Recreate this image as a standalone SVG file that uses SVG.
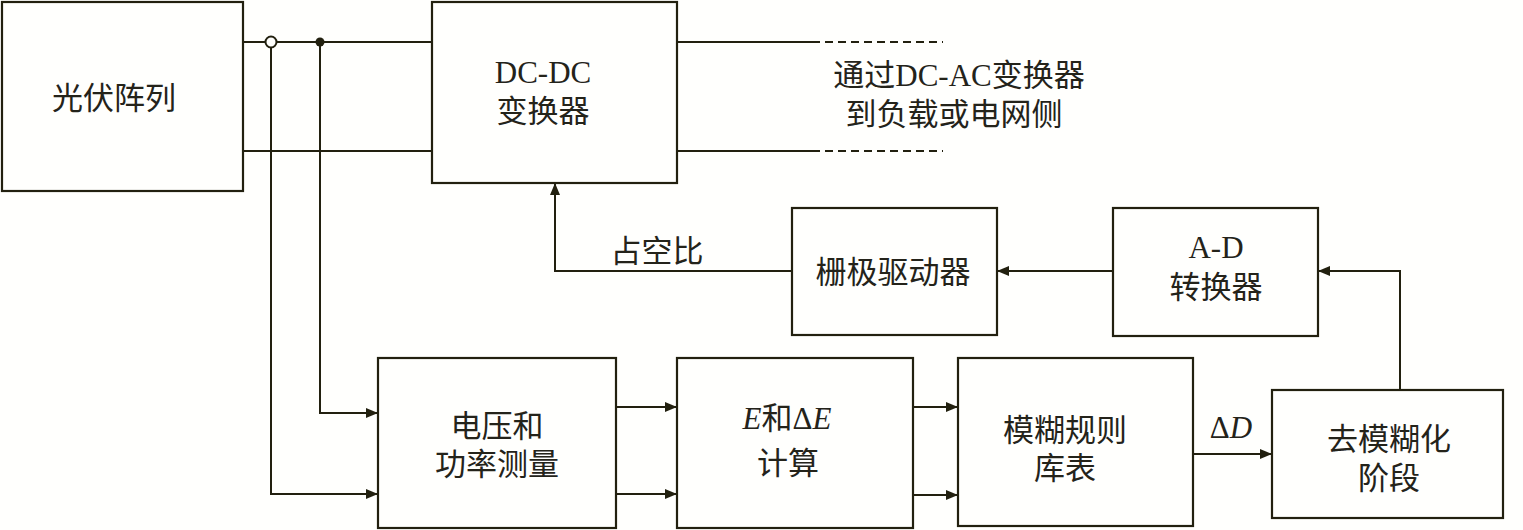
<svg xmlns="http://www.w3.org/2000/svg" width="1523" height="530" viewBox="0 0 1523 530">
<style>
.box{fill:#fffffd;stroke:#22200f;stroke-width:2.2}
.ln{fill:none;stroke:#22200f;stroke-width:2}
.ar{fill:none;stroke:#22200f;stroke-width:2;marker-end:url(#ah)}
.t{font-family:"Liberation Serif","Noto Sans CJK SC",serif;font-size:31px;fill:#24231a;text-anchor:middle}
.i{font-style:italic}
</style>
<defs>
<marker id="ah" viewBox="0 0 12 10" refX="12" refY="5" markerWidth="12" markerHeight="10" markerUnits="userSpaceOnUse" orient="auto">
<path d="M0,0 L12,5 L0,10 Z" fill="#22200f"/>
</marker>
</defs>
<rect width="1523" height="530" fill="#fffffd"/>
<g id="connectors">
<path class="ln" d="M243,42 H432"/>
<path class="ln" d="M243,151 H432"/>
<path class="ln" d="M677,42 H812"/>
<path class="ln" d="M677,151 H812"/>
<path class="ln" d="M812,42 H943" stroke-dasharray="8,5"/>
<path class="ln" d="M812,151 H943" stroke-dasharray="8,5"/>
<path class="ar" d="M271,47.5 V494 H378"/>
<circle cx="271" cy="42" r="5.5" fill="#fffffd" stroke="#22200f" stroke-width="2"/>
<path class="ar" d="M320,42 V413 H378"/>
<circle cx="320" cy="42" r="4.5" fill="#22200f"/>
<path class="ar" d="M616,407 H677"/>
<path class="ar" d="M616,494 H677"/>
<path class="ar" d="M913,407 H958"/>
<path class="ar" d="M913,495 H958"/>
<path class="ar" d="M1193,454 H1272"/>
<path class="ar" d="M1400,390 V271 H1318"/>
<path class="ar" d="M1113,271 H997"/>
<path class="ar" d="M792,271 H555 V183"/>
<text class="t" x="657" y="262">占空比</text>
<text class="t" x="1231" y="438">Δ<tspan class="i">D</tspan></text>
</g>
<g id="pv">
<rect class="box" x="2" y="2" width="241" height="189"/>
<text class="t" x="114" y="109">光伏阵列</text>
</g>
<g id="dcdc">
<rect class="box" x="432" y="2" width="245" height="181"/>
<text class="t" x="543" y="83">DC-DC</text>
<text class="t" x="543" y="122">变换器</text>
</g>
<g id="output-label">
<text class="t" x="959" y="86">通过DC-AC变换器</text>
<text class="t" x="954" y="125">到负载或电网侧</text>
</g>
<g id="gate">
<rect class="box" x="792" y="208" width="205" height="127"/>
<text class="t" x="893" y="283">栅极驱动器</text>
</g>
<g id="ad">
<rect class="box" x="1113" y="208" width="205" height="128"/>
<text class="t" x="1216" y="258">A-D</text>
<text class="t" x="1216" y="298">转换器</text>
</g>
<g id="measure">
<rect class="box" x="378" y="358" width="238" height="170"/>
<text class="t" x="497" y="437">电压和</text>
<text class="t" x="497" y="475">功率测量</text>
</g>
<g id="calc">
<rect class="box" x="677" y="358" width="236" height="170"/>
<text class="t" x="787" y="429"><tspan class="i">E</tspan>和Δ<tspan class="i">E</tspan></text>
<text class="t" x="788" y="474">计算</text>
</g>
<g id="rules">
<rect class="box" x="958" y="358" width="235" height="168"/>
<text class="t" x="1065" y="441">模糊规则</text>
<text class="t" x="1065" y="479">库表</text>
</g>
<g id="defuzz">
<rect class="box" x="1272" y="390" width="231" height="128"/>
<text class="t" x="1389" y="450">去模糊化</text>
<text class="t" x="1389" y="489">阶段</text>
</g>
</svg>
